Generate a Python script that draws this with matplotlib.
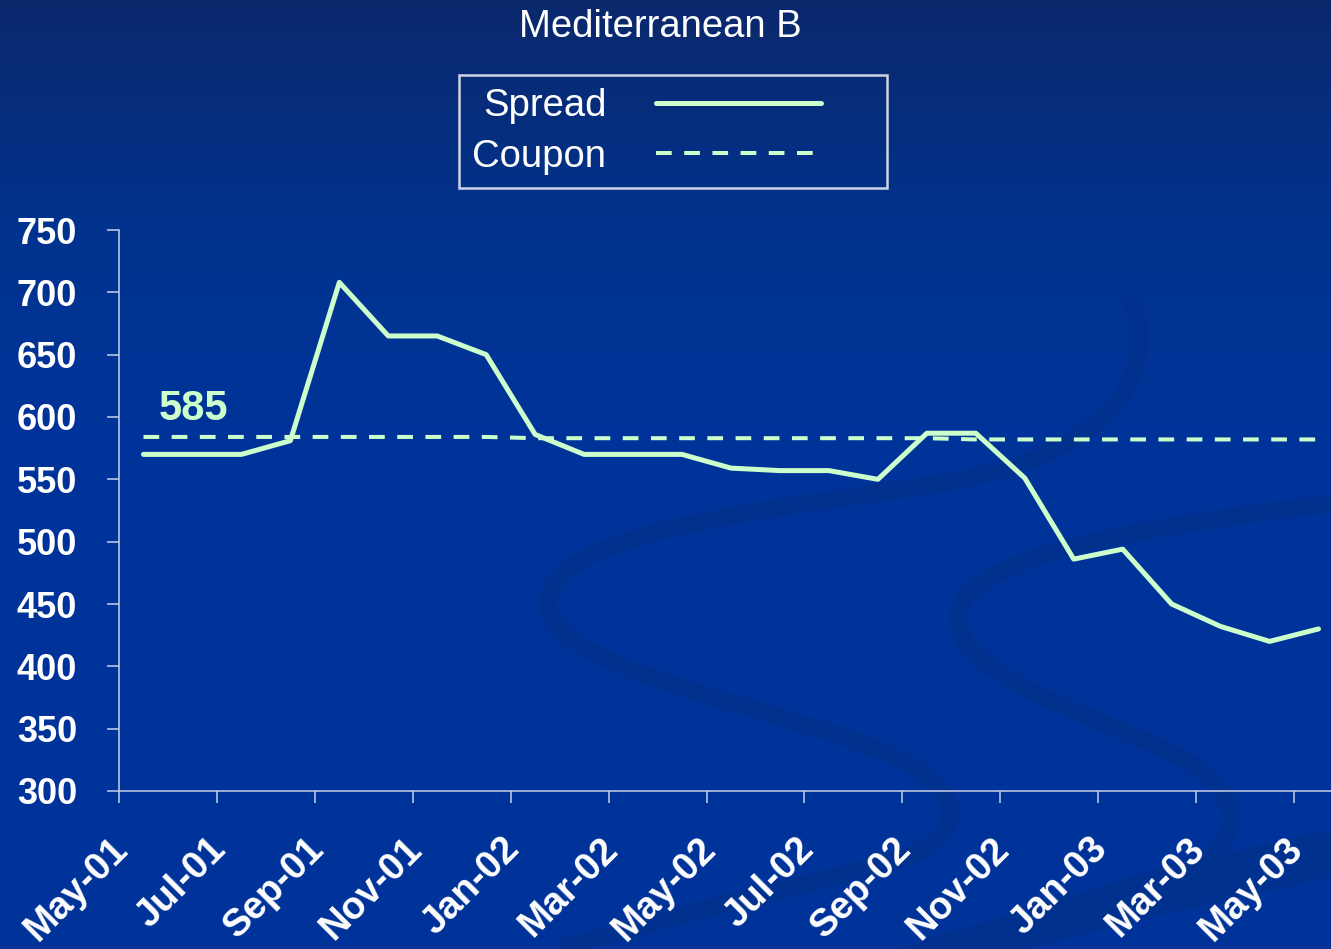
import numpy as np
import matplotlib.pyplot as plt
import matplotlib.transforms as mtransforms
from matplotlib.path import Path
from matplotlib.patches import PathPatch
from matplotlib.legend_handler import HandlerLine2D
from matplotlib.lines import Line2D
from matplotlib.colors import LinearSegmentedColormap

plt.rcParams['font.family'] = ['Liberation Sans', 'DejaVu Sans']

months = ["May-01", "Jun-01", "Jul-01", "Aug-01", "Sep-01", "Oct-01", "Nov-01",
          "Dec-01", "Jan-02", "Feb-02", "Mar-02", "Apr-02", "May-02", "Jun-02",
          "Jul-02", "Aug-02", "Sep-02", "Oct-02", "Nov-02", "Dec-02", "Jan-03",
          "Feb-03", "Mar-03", "Apr-03", "May-03"]
spread = [570, 570, 570, 581, 708, 665, 665, 650, 586, 570, 570, 570, 559,
          557, 557, 550, 587, 587, 551, 486, 494, 450, 432, 420, 430]
coupon = [584, 584, 584, 584, 584, 584, 584, 584, 583, 583, 583, 583, 583,
          583, 583, 583, 583, 582, 582, 582, 582, 582, 582, 582, 582]
tick_labels = months[::2]
coupon_label = "585"

W, H = 1331, 949
LINE_GREEN = "#ccffcc"

fig = plt.figure(figsize=(W / 100, H / 100), dpi=100)

# background: gradient + decorative swooshes (pixel coords)
bg = fig.add_axes([0, 0, 1, 1], zorder=-1)
bg.set_xlim(0, W)
bg.set_ylim(H, 0)
bg.axis("off")
cmap = LinearSegmentedColormap.from_list(
    "slide", [(0, "#0b286c"), (0.25, "#01338f"), (0.45, "#003399"), (1, "#003399")])
grad = np.linspace(0, 1, 256).reshape(-1, 1)
bg.imshow(grad, cmap=cmap, aspect="auto", extent=(0, W, H, 0))

swoosh_col = "#01318f"
s1 = Path([(1130, 295), (1165, 380), (1100, 455), (950, 482),
           (760, 512), (560, 530), (548, 600),
           (540, 665), (750, 700), (880, 750),
           (975, 790), (975, 845), (870, 868),
           (760, 895), (640, 925), (560, 949)],
          [Path.MOVETO] + [Path.CURVE4] * 15)
bg.add_patch(PathPatch(s1, fill=False, edgecolor=swoosh_col, lw=13, capstyle="butt"))
s2 = Path([(1345, 502), (1150, 525), (965, 555), (958, 615),
           (952, 685), (1150, 730), (1200, 770),
           (1250, 810), (1245, 855), (1150, 880),
           (1080, 900), (1030, 925), (990, 949)],
          [Path.MOVETO] + [Path.CURVE4] * 12)
bg.add_patch(PathPatch(s2, fill=False, edgecolor=swoosh_col, lw=13, capstyle="butt"))
band = Path([(897, 949), (1050, 900), (1200, 855), (1331, 830),
             (1331, 877), (1200, 905), (1100, 930), (1030, 949)],
            [Path.MOVETO, Path.CURVE4, Path.CURVE4, Path.CURVE4,
             Path.LINETO, Path.CURVE4, Path.CURVE4, Path.CURVE4])
bg.add_patch(PathPatch(band, facecolor=swoosh_col, edgecolor="none"))

# main chart
ax = fig.add_axes([119 / W, 1 - 791 / H, 25 * 48.96 / W, 561 / H])
ax.set_facecolor("none")
x = np.arange(len(months)) + 0.5
ax.plot(x, spread, color=LINE_GREEN, lw=3.6, solid_joinstyle="round",
        solid_capstyle="round", label="Spread")
ax.plot(x, coupon, color=LINE_GREEN, lw=2.9, dashes=(3.9, 3.1),
        dash_capstyle="butt", label="Coupon")
ax.text(0.82, 597.5, coupon_label, color=LINE_GREEN, fontsize=30,
        fontweight="bold", ha="left", va="baseline")

ax.set_xlim(0, 25)
ax.set_ylim(300, 750)
ax.set_yticks(np.arange(300, 751, 50))
ax.set_xticks(np.arange(0, len(months), 2), tick_labels)

for side in ("top", "right"):
    ax.spines[side].set_visible(False)
for side in ("left", "bottom"):
    ax.spines[side].set_color("#c8d0e8")
    ax.spines[side].set_linewidth(1.1)
ax.tick_params(axis="both", colors="#c8d0e8", length=8.6, width=1.1,
               labelcolor="white", labelsize=26)
ax.tick_params(axis="y", pad=21.5)
ax.tick_params(axis="x", pad=20, labelsize=27.5)
for lab in ax.get_yticklabels():
    lab.set_fontweight("bold")
shift = mtransforms.ScaledTranslation(-9 / 100, 0, fig.dpi_scale_trans)
for lab in ax.get_xticklabels():
    lab.set_fontweight("bold")
    lab.set_rotation(45)
    lab.set_ha("right")
    lab.set_va("top")
    lab.set_rotation_mode("anchor")
    lab.set_transform(lab.get_transform() + shift)


class ShortLine(HandlerLine2D):
    # line occupies only the left part of the handle box, like the Excel legend
    def create_artists(self, legend, orig_handle, xdescent, ydescent,
                       width, height, fontsize, trans):
        return super().create_artists(legend, orig_handle, xdescent, ydescent,
                                      width * 0.76, height, fontsize, trans)


handles, labels = ax.get_legend_handles_labels()
leg = fig.legend(handles, labels, loc="center",
                 bbox_to_anchor=(673 / W, 1 - 131.5 / H),
                 fontsize=27.5, markerfirst=False, handlelength=5.7,
                 handletextpad=1.3, borderpad=0.34, labelspacing=0.38,
                 fancybox=False, handler_map={Line2D: ShortLine()})
leg.get_frame().set_edgecolor("white")
leg.get_frame().set_linewidth(1.8)
leg.get_frame().set_facecolor("none")
for t in leg.get_texts():
    t.set_color("white")

fig.text(660.5 / W, 1 - 37 / H, "Mediterranean B", color="white",
         fontsize=27.5, ha="center", va="baseline")

fig.savefig("out.png", dpi=100)
